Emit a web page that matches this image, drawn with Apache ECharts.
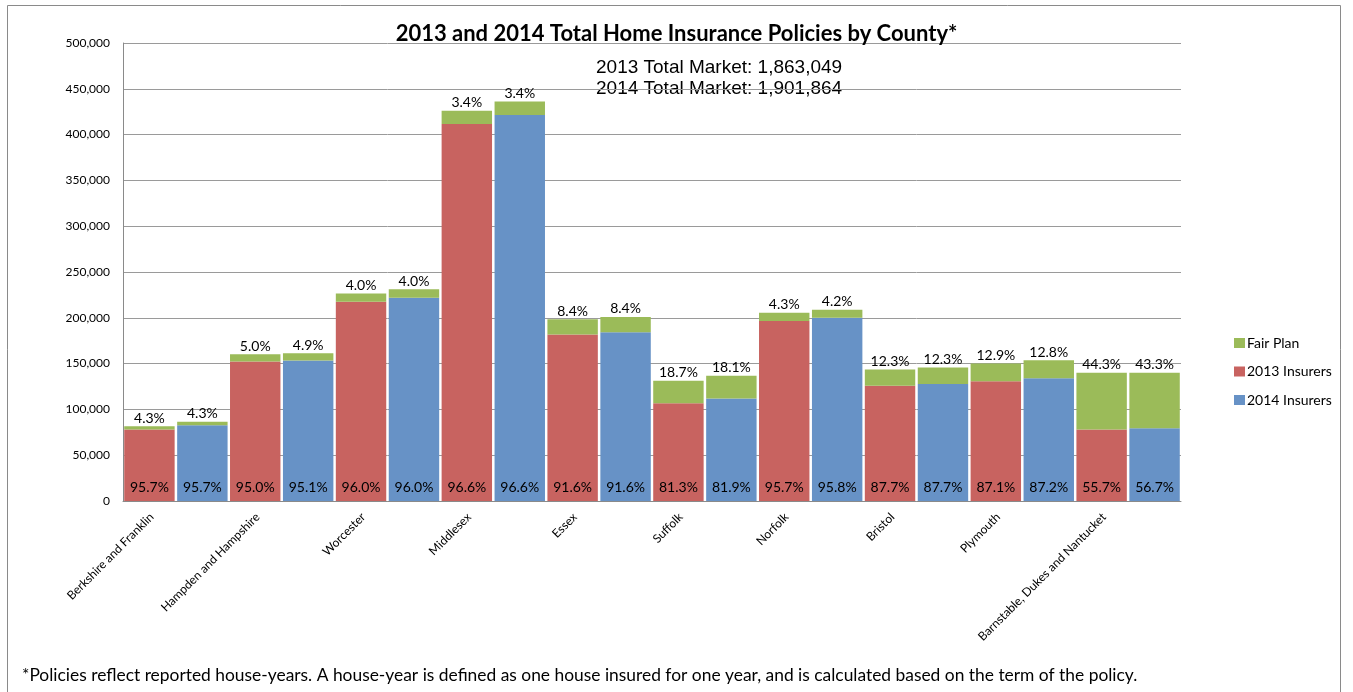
<!DOCTYPE html>
<html>
<head>
<meta charset="utf-8">
<title>2013 and 2014 Total Home Insurance Policies by County</title>
<script src="https://cdn.jsdelivr.net/npm/echarts@6/dist/echarts.min.js"></script>
<style>
  html, body { margin: 0; padding: 0; background: #ffffff; }
  #chart { width: 1353px; height: 692px; }
</style>
</head>
<body>
<div id="chart"></div>
<script>
// Counties (category axis)
const counties = [
  'Berkshire and Franklin', 'Hampden and Hampshire', 'Worcester', 'Middlesex', 'Essex',
  'Suffolk', 'Norfolk', 'Bristol', 'Plymouth', 'Barnstable, Dukes and Nantucket'
];

// Total policies (insurers + Fair Plan) per county
const total2013 = [81700, 160300, 226500, 426000, 198500, 131200, 205400, 143600, 150100, 139900];
const total2014 = [86500, 161400, 231200, 436100, 201000, 136700, 208700, 145700, 153700, 139900];

// Share written by voluntary insurers (%)
const insurerShare2013 = [95.7, 95.0, 96.0, 96.6, 91.6, 81.3, 95.7, 87.7, 87.1, 55.7];
const insurerShare2014 = [95.7, 95.1, 96.0, 96.6, 91.6, 81.9, 95.8, 87.7, 87.2, 56.7];

// Share written by the Fair Plan (%)
const fairShare2013 = [4.3, 5.0, 4.0, 3.4, 8.4, 18.7, 4.3, 12.3, 12.9, 44.3];
const fairShare2014 = [4.3, 4.9, 4.0, 3.4, 8.4, 18.1, 4.2, 12.3, 12.8, 43.3];

// Statewide totals
const marketTotal2013 = '1,863,049';
const marketTotal2014 = '1,901,864';

const titleText = '2013 and 2014 Total Home Insurance Policies by County*';
const footnoteText = '*Policies reflect reported house-years. A house-year is defined as one house insured for one year, and is calculated based on the term of the policy.';

// Policy counts split by share
const insurers2013 = total2013.map((t, i) => Math.round(t * insurerShare2013[i] / 100));
const fair2013 = total2013.map((t, i) => Math.round(t * fairShare2013[i] / 100));
const insurers2014 = total2014.map((t, i) => Math.round(t * insurerShare2014[i] / 100));
const fair2014 = total2014.map((t, i) => Math.round(t * fairShare2014[i] / 100));

const COLOR_2013 = '#C86360';
const COLOR_2014 = '#6792C6';
const COLOR_FAIR = '#9BBB59';
const FONT = 'Lato, "Open Sans", sans-serif';

const pct = arr => p => arr[p.dataIndex].toFixed(1) + '%';
const fmt = v => String(v).replace(/\B(?=(\d{3})+(?!\d))/g, ',');

const barCommon = {
  type: 'bar',
  barCategoryGap: '2.3%',
  barGap: '5%'
};

const chart = echarts.init(document.getElementById('chart'), null, { renderer: 'canvas' });

chart.setOption({
  animation: false,
  backgroundColor: '#ffffff',
  title: {
    text: titleText,
    left: 'center',
    top: 18,
    textStyle: { fontFamily: FONT, fontSize: 22, fontWeight: 'bold', color: '#000' }
  },
  legend: {
    orient: 'vertical',
    left: 1229,
    top: 331,
    icon: 'rect',
    itemWidth: 11,
    itemHeight: 10,
    itemGap: 14.5,
    data: ['Fair Plan', '2013 Insurers', '2014 Insurers'],
    textStyle: { fontFamily: FONT, fontSize: 14, color: '#000', padding: [0, 0, 0, -3] }
  },
  grid: { left: 123, right: 172, top: 43, bottom: 191 },
  xAxis: {
    type: 'category',
    data: counties,
    axisLine: { lineStyle: { color: '#8a8a8a' } },
    axisTick: { show: false },
    axisLabel: {
      interval: 0,
      rotate: 45,
      margin: -10,
      padding: [0, 34, 0, 0],
      fontFamily: FONT,
      fontSize: 12,
      color: '#000'
    }
  },
  yAxis: {
    type: 'value',
    min: 0,
    max: 500000,
    interval: 50000,
    axisLine: { show: true, lineStyle: { color: '#8a8a8a' } },
    axisTick: { show: false },
    splitLine: { lineStyle: { color: '#9a9a9a' } },
    axisLabel: {
      margin: 13,
      fontFamily: FONT,
      fontSize: 12,
      color: '#000',
      formatter: fmt
    }
  },
  series: [
    Object.assign({}, barCommon, {
      name: '2013 Insurers',
      stack: 'y2013',
      data: insurers2013,
      itemStyle: { color: COLOR_2013 },
      label: {
        show: true, position: 'insideBottom', distance: 7,
        fontFamily: FONT, fontSize: 14, color: '#000',
        formatter: pct(insurerShare2013)
      }
    }),
    Object.assign({}, barCommon, {
      name: 'Fair Plan',
      stack: 'y2013',
      data: fair2013,
      itemStyle: { color: COLOR_FAIR },
      label: {
        show: true, position: 'top', distance: 1,
        fontFamily: FONT, fontSize: 14, color: '#000',
        formatter: pct(fairShare2013)
      }
    }),
    Object.assign({}, barCommon, {
      name: '2014 Insurers',
      stack: 'y2014',
      data: insurers2014,
      itemStyle: { color: COLOR_2014 },
      label: {
        show: true, position: 'insideBottom', distance: 7,
        fontFamily: FONT, fontSize: 14, color: '#000',
        formatter: pct(insurerShare2014)
      }
    }),
    Object.assign({}, barCommon, {
      name: 'Fair Plan',
      stack: 'y2014',
      data: fair2014,
      itemStyle: { color: COLOR_FAIR },
      label: {
        show: true, position: 'top', distance: 1,
        fontFamily: FONT, fontSize: 14, color: '#000',
        formatter: pct(fairShare2014)
      }
    })
  ],
  graphic: [
    {
      type: 'rect',
      silent: true,
      shape: { x: 7.5, y: 5.5, width: 1333, height: 700 },
      style: { fill: 'none', stroke: '#8a8a8a', lineWidth: 1 }
    },
    {
      type: 'text',
      left: 596,
      top: 58,
      style: {
        text: '2013 Total Market: ' + marketTotal2013,
        font: '19px "Liberation Sans", Arial, sans-serif',
        fill: '#000'
      }
    },
    {
      type: 'text',
      left: 596,
      top: 79,
      style: {
        text: '2014 Total Market: ' + marketTotal2014,
        font: '19px "Liberation Sans", Arial, sans-serif',
        fill: '#000'
      }
    },
    {
      type: 'text',
      left: 22,
      top: 667,
      style: {
        text: footnoteText,
        font: '17.4px Lato, "Open Sans", sans-serif',
        fill: '#000'
      }
    }
  ]
});
</script>
</body>
</html>
